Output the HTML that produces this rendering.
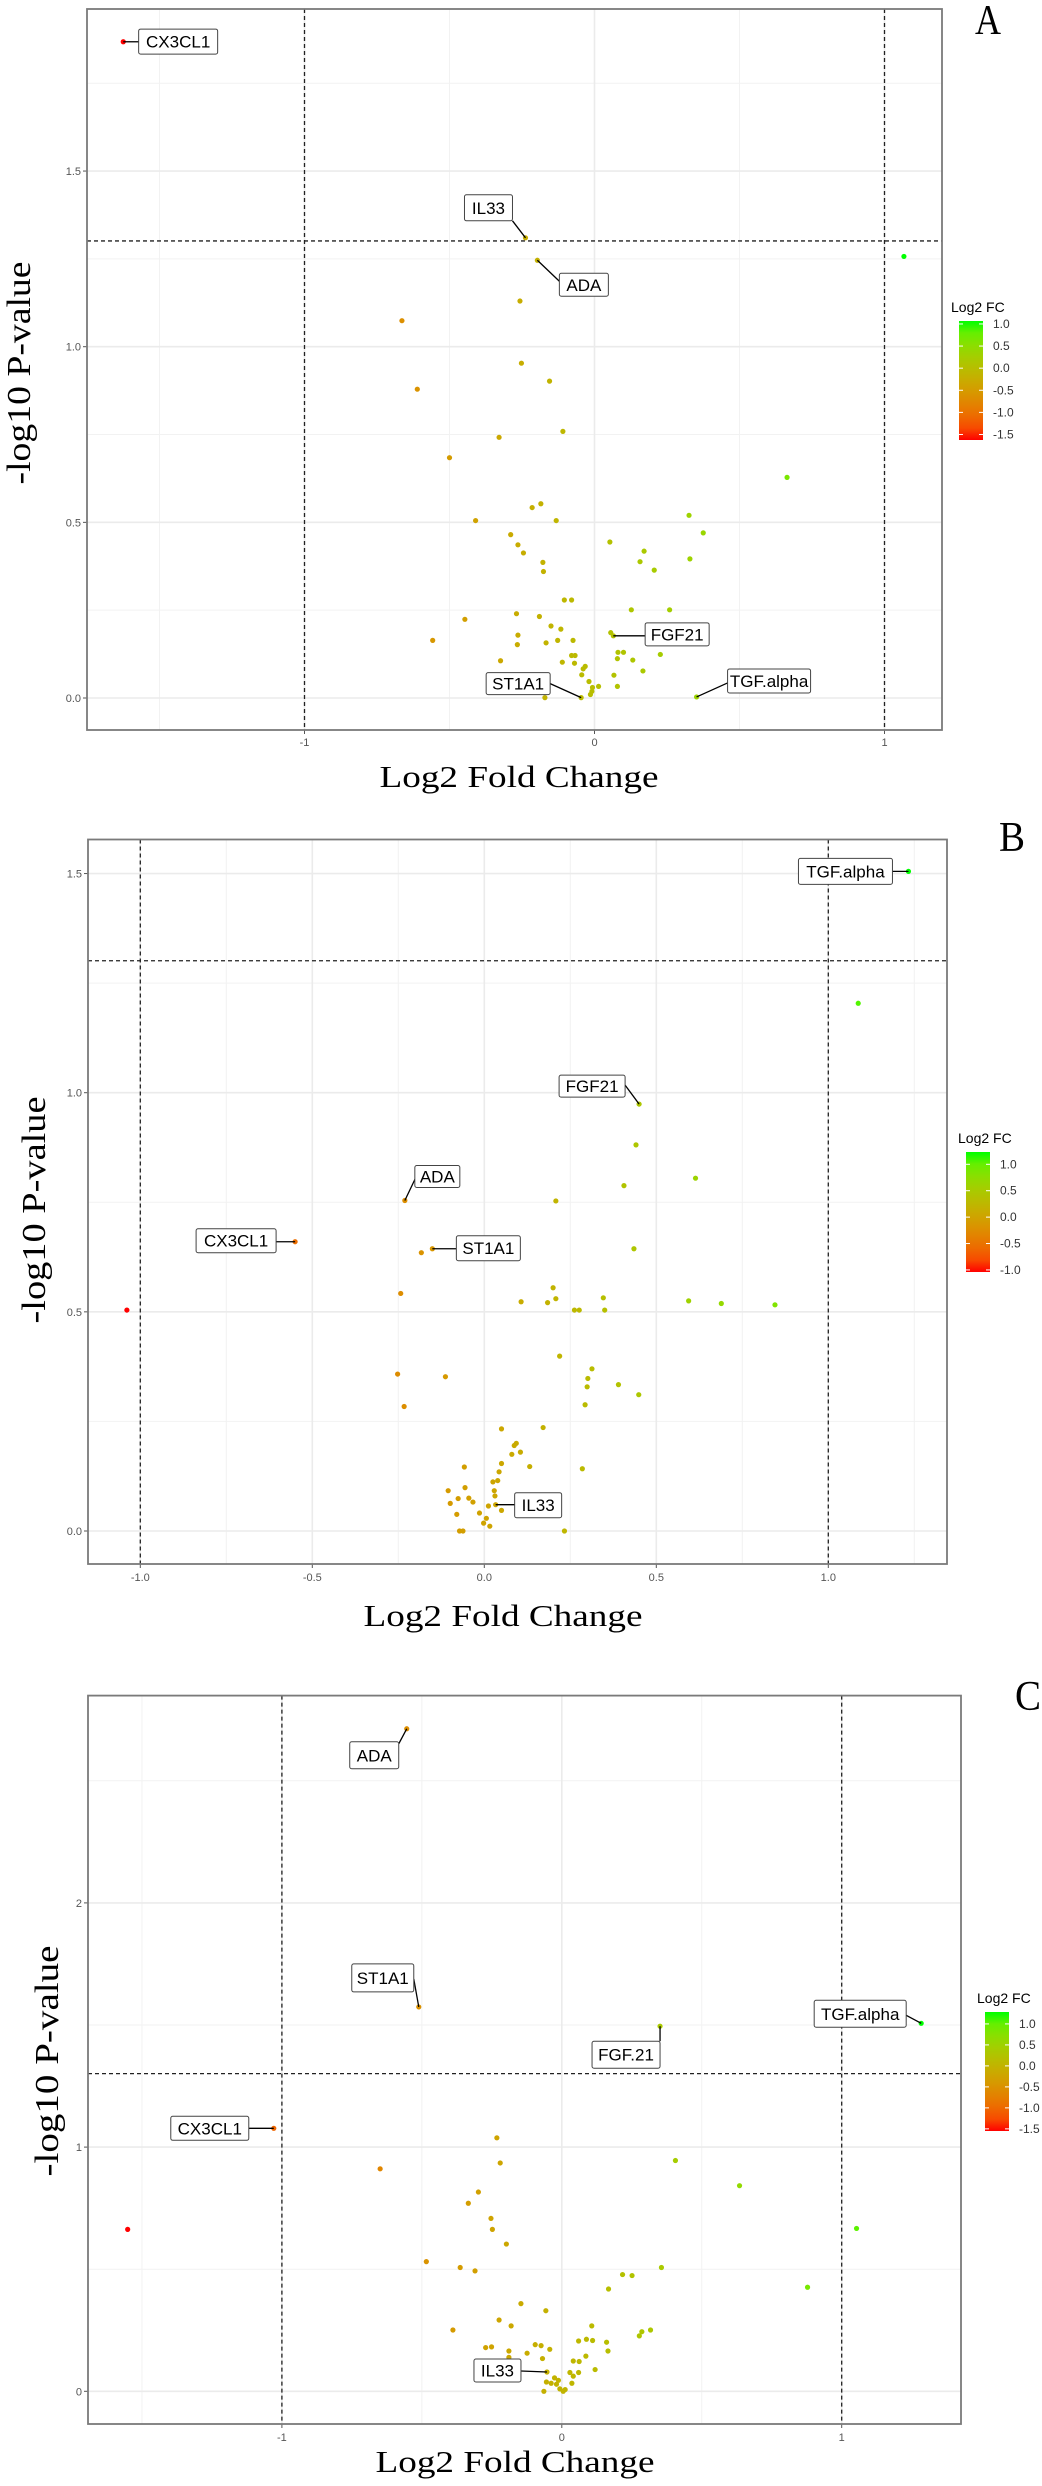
<!DOCTYPE html>
<html><head><meta charset="utf-8">
<style>
html,body{margin:0;padding:0;background:#fff;}
svg{display:block;}
</style></head>
<body>
<svg id="fig" xmlns="http://www.w3.org/2000/svg" width="1042" height="2486" viewBox="0 0 1042 2486"></svg>
<script>
// ---- Panel A data (log2 FC, -log10 p) ----
const aNames = ["CX3CL1","IL33","ADA","FGF21","ST1A1","TGF.alpha"];
const aX = [-1.625,-0.238,-0.197,0.065,-0.046,0.352,
 1.067,-0.257,-0.664,-0.252,-0.155,-0.611,-0.109,-0.329,-0.5,0.664,-0.185,-0.215,0.326,-0.41,-0.132,0.375,-0.289,0.053,-0.264,-0.245,0.171,0.329,-0.178,0.157,-0.176,0.206,-0.104,-0.079,0.127,0.259,-0.447,-0.269,-0.19,-0.15,-0.116,0.056,-0.264,-0.558,-0.127,-0.074,-0.266,-0.167,0.081,0.1,-0.079,-0.067,0.079,0.132,0.227,-0.324,-0.111,-0.069,-0.032,-0.039,0.167,0.067,-0.044,-0.019,-0.007,0.014,0.079,-0.009,-0.014,-0.171];
const aY = [1.868,1.31,1.246,0.177,0.001,0.003,
 1.257,1.13,1.074,0.953,0.902,0.879,0.759,0.742,0.684,0.628,0.553,0.542,0.52,0.505,0.505,0.47,0.465,0.444,0.436,0.413,0.418,0.396,0.386,0.388,0.36,0.364,0.279,0.279,0.251,0.251,0.224,0.24,0.232,0.205,0.196,0.186,0.179,0.164,0.164,0.164,0.152,0.157,0.13,0.13,0.121,0.121,0.112,0.108,0.124,0.106,0.102,0.099,0.09,0.083,0.077,0.065,0.066,0.047,0.03,0.033,0.033,0.019,0.01,0.001];
const aXTicks = [-1,0,1];
const aXTickLabels = ["-1","0","1"];
const aYTicks = [0,0.5,1,1.5];
const aYTickLabels = ["0.0","0.5","1.0","1.5"];
const aLegendTicks = [1.0,0.5,0.0,-0.5,-1.0,-1.5];

// ---- Panel B data ----
const bNames = ["TGF.alpha","FGF21","ADA","CX3CL1","ST1A1","IL33"];
const bX = [1.233,0.45,-0.231,-0.55,-0.151,0.033,
 1.087,0.441,0.614,0.406,0.208,-0.183,0.435,-0.243,0.2,0.208,0.107,0.184,0.346,0.594,0.689,0.845,0.262,0.276,0.35,-1.039,0.219,0.313,0.301,0.299,0.39,0.449,-0.252,-0.113,0.293,-0.233,0.05,0.171,0.093,0.087,0.08,0.105,0.05,0.132,0.285,-0.058,0.043,0.039,0.025,-0.056,-0.105,0.029,0.031,-0.076,-0.045,-0.033,-0.099,0.012,0.05,-0.08,-0.014,0.006,-0.002,0.016,-0.072,-0.062,0.233];
const bY = [1.505,0.974,0.754,0.66,0.644,0.06,
 1.204,0.881,0.805,0.788,0.753,0.635,0.644,0.542,0.555,0.53,0.523,0.521,0.532,0.525,0.519,0.516,0.504,0.504,0.504,0.504,0.399,0.37,0.348,0.329,0.334,0.311,0.358,0.352,0.288,0.284,0.233,0.236,0.2,0.195,0.175,0.18,0.154,0.147,0.142,0.146,0.135,0.115,0.112,0.099,0.092,0.092,0.08,0.074,0.075,0.066,0.063,0.057,0.047,0.038,0.041,0.029,0.018,0.011,0,0,0];
const bXTicks = [-1,-0.5,0,0.5,1];
const bXTickLabels = ["-1.0","-0.5","0.0","0.5","1.0"];
const bYTicks = [0,0.5,1,1.5];
const bYTickLabels = ["0.0","0.5","1.0","1.5"];
const bLegendTicks = [1.0,0.5,0.0,-0.5,-1.0];

// ---- Panel C data ----
const cNames = ["ADA","ST1A1","FGF.21","TGF.alpha","CX3CL1","IL33"];
const cX = [-0.554,-0.511,0.351,1.284,-1.029,-0.053,
 -0.232,0.406,-0.22,-0.649,0.635,-0.298,-0.334,-0.253,-0.248,-1.551,1.053,-0.198,-0.484,-0.363,-0.31,0.356,0.217,0.251,0.167,0.878,-0.146,-0.057,-0.224,-0.181,0.107,-0.389,0.317,0.286,0.277,0.088,0.11,0.06,0.16,-0.095,-0.074,-0.272,-0.251,-0.043,-0.189,0.165,-0.124,0.086,-0.189,-0.069,0.041,0.062,0.119,0.029,0.06,0.041,-0.026,-0.012,-0.055,-0.038,0.036,-0.019,-0.007,0.012,-0.064,0.005];
const cY = [2.713,1.574,1.495,1.507,1.077,0.079,
 1.038,0.945,0.935,0.911,0.842,0.816,0.77,0.708,0.663,0.663,0.667,0.603,0.531,0.507,0.493,0.507,0.478,0.474,0.419,0.426,0.359,0.33,0.292,0.268,0.268,0.251,0.251,0.244,0.227,0.213,0.208,0.206,0.201,0.191,0.187,0.179,0.182,0.172,0.165,0.165,0.156,0.144,0.139,0.134,0.124,0.122,0.089,0.077,0.077,0.062,0.055,0.045,0.038,0.033,0.033,0.029,0.01,0.007,0,0];
const cXTicks = [-1,0,1];
const cXTickLabels = ["-1","0","1"];
const cYTicks = [0,1,2];
const cYTickLabels = ["0","1","2"];
const cLegendTicks = [1.0,0.5,0.0,-0.5,-1.0,-1.5];

const NS = "http://www.w3.org/2000/svg";
const svg = document.getElementById('fig');
function mk(tag, attrs, parent){
  const e = document.createElementNS(NS, tag);
  for (const k in attrs) e.setAttribute(k, attrs[k]);
  (parent||svg).appendChild(e);
  return e;
}
// Lab interpolation red -> green (ggplot-like)
function s2l(c){c/=255;return c<=0.04045?c/12.92:Math.pow((c+0.055)/1.055,2.4);}
function l2s(c){c=c<=0.0031308?12.92*c:1.055*Math.pow(c,1/2.4)-0.055;return Math.max(0,Math.min(255,Math.round(c*255)));}
function rgb2lab(r,g,b){r=s2l(r);g=s2l(g);b=s2l(b);
 let x=(r*0.4124+g*0.3576+b*0.1805)/0.95047,y=(r*0.2126+g*0.7152+b*0.0722),z=(r*0.0193+g*0.1192+b*0.9505)/1.08883;
 const f=t=>t>0.008856?Math.cbrt(t):7.787*t+16/116;x=f(x);y=f(y);z=f(z);
 return [116*y-16,500*(x-y),200*(y-z)];}
function lab2rgb(L,a,b){let y=(L+16)/116,x=a/500+y,z=y-b/200;
 const fi=t=>t*t*t>0.008856?t*t*t:(t-16/116)/7.787;x=fi(x)*0.95047;y=fi(y);z=fi(z)*1.08883;
 const r=x*3.2406+y*-1.5372+z*-0.4986,g=x*-0.9689+y*1.8758+z*0.0415,bb=x*0.0557+y*-0.2040+z*1.0570;
 return `rgb(${l2s(r)},${l2s(g)},${l2s(bb)})`;}
const LOW=rgb2lab(255,0,0), HIGH=rgb2lab(0,255,0);
function col(t){t=Math.max(0,Math.min(1,t));return lab2rgb(LOW[0]+(HIGH[0]-LOW[0])*t,LOW[1]+(HIGH[1]-LOW[1])*t,LOW[2]+(HIGH[2]-LOW[2])*t);}

function panel(P){
  const g = mk('g',{});
  
  
  const sx = v => P.x0 + P.ux*v;
  const sy = v => P.y0 - P.uy*v;
  const L=P.rect[0],T=P.rect[1],R=P.rect[2],B=P.rect[3];
  // minor grid
  const xmin=(L-P.x0)/P.ux, xmax=(R-P.x0)/P.ux, ymin=(P.y0-B)/P.uy, ymax=(P.y0-T)/P.uy;
  const stepX=P.xt[1]-P.xt[0], stepY=P.yt[1]-P.yt[0];
  for(let v=Math.floor(xmin/stepX)*stepX-stepX/2; v<=xmax; v+=stepX){
    if(v<xmin) continue;
    const gl=mk('line',{x1:sx(v),x2:sx(v),y1:T,y2:B,stroke:'#f2f2f2','stroke-width':1},g);
    
    
  }
  for(let v=Math.floor(ymin/stepY)*stepY-stepY/2; v<=ymax; v+=stepY){
    if(v<ymin) continue;
    const gl=mk('line',{x1:L,x2:R,y1:sy(v),y2:sy(v),stroke:'#f2f2f2','stroke-width':1},g);
    
    
  }
  P.xt.forEach((v,i)=>{
    const gl=mk('line',{x1:sx(v),x2:sx(v),y1:T,y2:B,stroke:'#ebebeb','stroke-width':1.6},g);
    
    
    mk('line',{x1:sx(v),x2:sx(v),y1:B,y2:B+4,stroke:'#555','stroke-width':1},g);
    const t=mk('text',{x:sx(v),y:B+P.xlabDy,'text-anchor':'middle','font-family':'Liberation Sans, sans-serif','font-size':11,fill:'#555'},g);
    t.textContent=P.xtl[i];
    
    
  });
  P.yt.forEach((v,i)=>{
    const gl=mk('line',{x1:L,x2:R,y1:sy(v),y2:sy(v),stroke:'#ebebeb','stroke-width':1.6},g);
    
    
    mk('line',{x1:L-4,x2:L,y1:sy(v),y2:sy(v),stroke:'#555','stroke-width':1},g);
    const t=mk('text',{x:L-6,y:sy(v)+4,'text-anchor':'end','font-family':'Liberation Sans, sans-serif','font-size':11,fill:'#555'},g);
    t.textContent=P.ytl[i];
    
    
  });
  // threshold lines
  const h=mk('line',{x1:L,x2:R,y1:sy(1.301),y2:sy(1.301),stroke:'#222','stroke-width':1.3,'stroke-dasharray':'4,3'},g);
  
  
  [-1,1].forEach(v=>{
    const l=mk('line',{x1:sx(v),x2:sx(v),y1:T,y2:B,stroke:'#222','stroke-width':1.3,'stroke-dasharray':'4,3'},g);
    
    
  });
  // points
  const mn=Math.min(...P.X), mx=Math.max(...P.X);
  P.X.forEach((x,i)=>{
    const c=mk('circle',{cx:sx(x),cy:sy(P.Y[i]),r:2.6,fill:col((x-mn)/(mx-mn))},g);
    
    
  });
  // labels
  P.names.forEach((n,i)=>{
    const px=sx(P.X[i]), py=sy(P.Y[i]), lb=P.lab[i];
    const ln=mk('line',{x1:px,y1:py,x2:px+lb[4],y2:py+lb[5],stroke:'#000','stroke-width':1.3},g);
    
    
    const r=mk('rect',{x:px+lb[0],y:py+lb[1],width:lb[2],height:lb[3],rx:2,fill:'#fff',stroke:'#444','stroke-width':1},g);
    
    
    const t=mk('text',{x:px+lb[0]+lb[2]/2,y:py+lb[1]+lb[3]/2+6,'text-anchor':'middle','font-family':'Liberation Sans, sans-serif','font-size':17,fill:'#000'},g);
    t.textContent=n;
    
    
  });
  // frame
  const f=mk('rect',{x:L,y:T,width:R-L,height:B-T,fill:'none',stroke:'#7a7a7a','stroke-width':1.8},g);
  
  
  // titles
  const xt=mk('text',{x:P.xTitle[0],y:P.xTitle[1],'text-anchor':'middle','font-family':'Liberation Serif, serif','font-size':31,textLength:279,lengthAdjust:'spacingAndGlyphs',fill:'#000'},g);
  xt.textContent='Log2 Fold Change';
  
  
  const yt=mk('text',{x:0,y:0,transform:`translate(${P.yTitle[0]},${P.yTitle[1]}) rotate(-90)`,'text-anchor':'middle','font-family':'Liberation Serif, serif','font-size':34,textLength:P.yTitle[2],lengthAdjust:'spacingAndGlyphs',fill:'#000'},g);
  yt.textContent='-log10 P-value';
  
  
  const pl=mk('text',{x:P.letter[0],y:P.letter[1],'font-family':'Liberation Serif, serif','font-size':42,textLength:26,lengthAdjust:'spacingAndGlyphs',fill:'#000'},g);
  pl.textContent=P.id;
  
  
  // legend
  const lg=P.leg, gid='grad'+P.id;
  const defs=mk('defs',{},g);
  const grad=mk('linearGradient',{id:gid,x1:0,y1:0,x2:0,y2:1},defs);
  for(let k=0;k<=10;k++){mk('stop',{offset:k/10,'stop-color':col(1-k/10)},grad);}
  const lt=mk('text',{x:lg[0]-8,y:lg[1]-9,'font-family':'Liberation Sans, sans-serif','font-size':14,fill:'#000'},g);
  lt.textContent='Log2 FC';
  
  
  const bar=mk('rect',{x:lg[0],y:lg[1],width:24,height:lg[2],fill:`url(#${gid})`},g);
  
  
  P.legT.forEach(v=>{
    const yy=lg[1]+(mx-v)/(mx-mn)*lg[2];
    mk('line',{x1:lg[0],x2:lg[0]+4,y1:yy,y2:yy,stroke:'#fff','stroke-width':1},g);
    mk('line',{x1:lg[0]+20,x2:lg[0]+24,y1:yy,y2:yy,stroke:'#fff','stroke-width':1},g);
    const t=mk('text',{x:lg[0]+34,y:yy+4,'font-family':'Liberation Sans, sans-serif','font-size':12,fill:'#333'},g);
    t.textContent=v.toFixed(1);
    
    
  });
}

panel({id:'A',X:aX,Y:aY,names:aNames,xt:aXTicks,xtl:aXTickLabels,yt:aYTicks,ytl:aYTickLabels,legT:aLegendTicks,
  x0:594.5,ux:290,y0:698,uy:351.3,rect:[87,9,942,730],xlabDy:16,
  lab:[[15.4,-12.7,79,25,15.4,0],[-61,-43,48,26,-13,-17],[22,13,49,23,22,21],[31.8,-13,64,23,31.8,0],[-95,-25,64,22,-31,-14],[31,-28,83,24,31,-14]],
  xTitle:[519,787],yTitle:[30,373,223],letter:[975,34],leg:[959,321,119]});
panel({id:'B',X:bX,Y:bY,names:bNames,xt:bXTicks,xtl:bXTickLabels,yt:bYTicks,ytl:bYTickLabels,legT:bLegendTicks,
  x0:484.3,ux:344,y0:1531,uy:438.3,rect:[88,839.5,947,1564],xlabDy:17,
  lab:[[-110,-13,94,26,-16,0],[-80,-29,66,22,-14,-19],[10,-35,45,22,10.5,-22],[-99,-13,80,24,-19,0],[24,-13,64,25,24,0],[19,-12,47,25,19,0]],
  xTitle:[503,1626],yTitle:[45,1210,227],letter:[999,851],leg:[966,1152,120]});
panel({id:'C',X:cX,Y:cY,names:cNames,xt:cXTicks,xtl:cXTickLabels,yt:cYTicks,ytl:cYTickLabels,legT:cLegendTicks,
  x0:561.8,ux:279.9,y0:2391.3,uy:244.2,rect:[88,1695.6,961,2424],xlabDy:17,
  lab:[[-57,13,49,27,-8,15],[-67,-43,62,28,-5,-28],[-68,15,68,27,0,15],[-107,-23,92,27,-15,-8],[-103,-12,78,24,-25,0],[-73,-13,47,23,-26,-1]],
  xTitle:[515,2472],yTitle:[58,2061,231],letter:[1015,1710],leg:[985,2012,119]});
</script>
</body></html>
